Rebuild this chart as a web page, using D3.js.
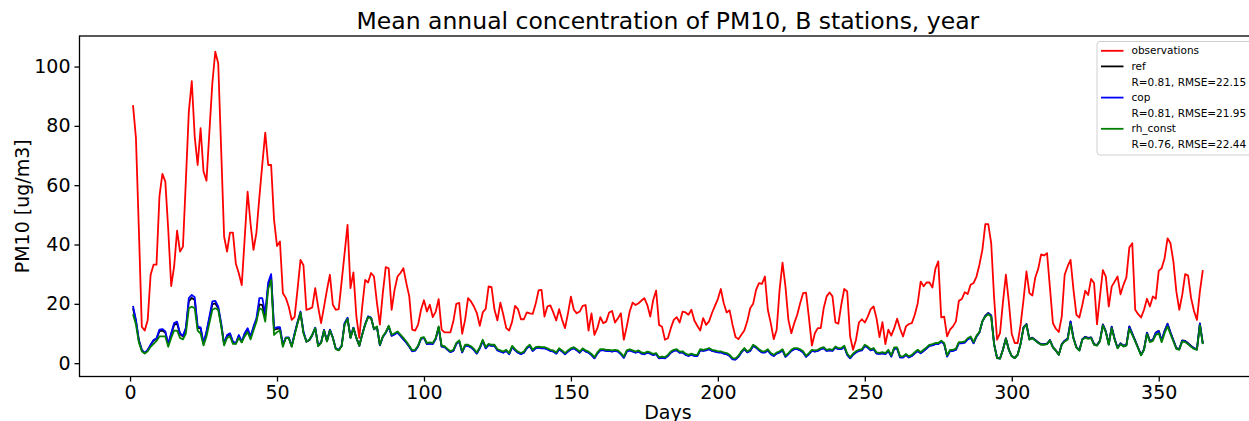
<!DOCTYPE html>
<html>
<head>
<meta charset="utf-8">
<script src="https://cdn.jsdelivr.net/npm/d3@7"></script>
<style>
  body { margin: 0; background: #fff; }
  svg { display: block; font-family: "DejaVu Sans", sans-serif; }
</style>
</head>
<body>
<svg id="chart" width="1249" height="421"></svg>
<script>
// daily means, day 1..365
const observations = [
  87, 76, 45, 12.3, 11, 14.5, 29.8, 33.2, 33.2, 56.2,
  63.8, 61.2, 44.9, 26, 32.6, 44.7, 37.6, 39.3, 61.8, 84.8,
  95.1, 76.4, 66.8, 79.2, 64.6, 61.5, 78, 94.4, 105, 101,
  72, 42.7, 37.6, 44, 44, 33.5, 30.3, 26.3, 42, 57.8,
  47, 38.2, 44, 56, 67, 77.7, 66.8, 66.8, 48.3, 39.5,
  41, 23.6, 22, 19, 14.6, 15.6, 25, 34.8, 33, 18,
  18.3, 18.8, 25.3, 19, 13.5, 19, 24.7, 29.8, 19.7, 18,
  18.2, 27.6, 37.1, 46.6, 25.3, 30.6, 15.8, 8.5, 19.1, 28.1,
  27.2, 30.4, 29.2, 20.3, 13, 23.6, 32.4, 32, 18, 24.7,
  29.2, 30.4, 32, 27, 22.5, 11.3, 11, 13, 18, 21.2,
  17.4, 19.7, 15.5, 17.4, 21.6, 11.3, 10.4, 10.4, 10.4, 14.1,
  20, 20.3, 9.9, 14.6, 21.9, 20.8, 19.1, 16.9, 12.6, 17.1,
  18.3, 25.9, 25.6, 18, 14.4, 20.4, 16.3, 11.8, 11, 14,
  19.3, 18.2, 14.8, 14.8, 17.1, 16.8, 16.6, 20, 24.5, 24.7,
  15.7, 19.1, 19.5, 17.1, 14.4, 18.2, 14.6, 11.8, 16.8, 22.4,
  18, 16.8, 17.4, 19.3, 19.6, 11, 16.8, 9.5, 11.8, 15.5,
  13.5, 14, 17.1, 17.6, 13.7, 15.1, 16.8, 7.9, 12.3, 17.4,
  20.4, 19.6, 20.2, 21.1, 21.9, 19.6, 15.7, 21.3, 24.5, 12.9,
  12.3, 7.9, 8.4, 11.8, 14.6, 15.5, 13.7, 17.4, 17.1, 16.3,
  18, 14.4, 12.6, 11, 15.2, 12.9, 14.1, 16.9, 19.3, 21.6,
  25, 20.2, 17.1, 17.8, 12.9, 8.8, 8.1, 9.6, 11, 14.1,
  18.5, 20, 24.7, 27, 26.7, 29.2, 18, 13.5, 8.1, 11.2,
  24.7, 33.9, 25.8, 14.6, 10.1, 13.5, 16.3, 20.2, 23.6, 23.8,
  15.2, 5.9, 10.1, 11.8, 11.8, 18.5, 22.5, 23.8, 22.5, 13.7,
  13.3, 19.7, 25, 24.2, 9, 4.5, 7.9, 13.7, 14.8, 13.7,
  15.7, 18.2, 19.1, 15, 8.8, 13.8, 6.4, 11.3, 9.3, 11.8,
  15, 11.6, 9, 12.4, 13.2, 13.5, 16.3, 20.2, 27.5, 25.9,
  27.2, 27.2, 25.5, 31.8, 34.3, 15.4, 15.7, 9, 11.3, 12.4,
  14.1, 21, 21.6, 23.9, 23.3, 26.4, 27, 29.2, 33.2, 38.2,
  46.9, 46.9, 40.5, 21.9, 7.9, 10.1, 20.6, 29.8, 20.6, 9.8,
  6.8, 6.8, 12.9, 21.4, 30.9, 23.6, 22.8, 28.9, 31.8, 36.7,
  36.3, 37.1, 25.3, 13.5, 11.6, 10.5, 15.7, 29.8, 32.6, 34.8,
  24.7, 16.3, 15.4, 19.6, 24.4, 23, 28.4, 27, 13.1, 22.5,
  31.4, 29.2, 19.1, 25.8, 27.5, 29.2, 23.2, 26.4, 28.9, 39,
  40.4, 18, 16.5, 15.4, 18, 21.7, 19.1, 22.5, 21.7, 31.1,
  32, 35.4, 42.1, 40.4, 34.2, 24.1, 18, 23, 30, 29.5,
  22, 17.6, 14.6, 24.1, 31.4
];

const ref = [
  18.5, 14.2, 7.6, 4.4, 3.4, 4.4, 6.1, 7.6, 8.2, 10.8,
  11, 10.3, 6.4, 9.8, 12.9, 13.4, 9.8, 9, 11.5, 20.8,
  22, 21.3, 11.9, 11.7, 6.5, 10.3, 15, 19.8, 20.2, 18.5,
  13, 6.4, 9.2, 9.8, 7.1, 6.6, 9.2, 7.1, 9.8, 11.4,
  8.8, 11.9, 14.5, 19.8, 19.6, 15.8, 26.2, 29.2, 11.2, 11.6,
  11.7, 6.1, 8.5, 8.5, 5.7, 9.8, 13.6, 16.8, 10.4, 7.2,
  7.7, 9.4, 11.9, 5.9, 6.9, 11.1, 7.4, 11.2, 8.6, 4.9,
  4.4, 5.9, 13.3, 15.1, 8.6, 11.9, 8.5, 5.9, 9.7, 13.1,
  15.6, 15.3, 11.4, 12.2, 6.1, 8.9, 10.3, 12.4, 9.3, 9.8,
  10.4, 9.3, 8.1, 7.0, 5.6, 4.1, 4.3, 5.7, 8.3, 8.6,
  6.5, 6.7, 6.5, 8.2, 12.1, 5.7, 5.5, 4.6, 3.8, 4.2,
  6.5, 7.4, 3.7, 5.9, 5.9, 5.4, 4.5, 3.3, 5.1, 7.6,
  5.1, 6.2, 5.9, 5.9, 4.4, 4.0, 3.6, 4.2, 3.1, 5.5,
  4.4, 3.6, 3.1, 3.6, 5.1, 5.9, 4.2, 5.1, 5.3, 5.1,
  5.1, 4.7, 4.2, 4.0, 3.3, 4.7, 4.0, 3.1, 4.0, 4.7,
  5.1, 4.4, 3.6, 4.7, 4.0, 3.6, 2.8, 1.7, 3.3, 4.4,
  4.4, 4.2, 4.2, 4.0, 4.2, 4.0, 3.1, 1.9, 4.0, 4.4,
  4.0, 3.6, 4.0, 3.3, 3.1, 3.6, 3.3, 2.8, 3.1, 1.7,
  1.9, 1.7, 2.5, 3.6, 4.2, 4.4, 3.6, 3.7, 2.9, 2.5,
  2.9, 2.5, 2.5, 4.4, 4.2, 4.4, 4.8, 4.2, 4.0, 3.7,
  3.7, 3.3, 3.1, 2.5, 1.4, 1.3, 2.2, 3.7, 4.8, 3.7,
  4.2, 5.9, 5.3, 4.4, 3.7, 3.7, 4.4, 3.1, 2.5, 3.3,
  3.7, 4.4, 2.2, 3.1, 4.2, 4.8, 4.8, 4.4, 3.7, 2.2,
  3.1, 4.2, 4.0, 4.2, 4.8, 5.1, 4.2, 4.4, 4.2, 5.3,
  4.8, 4.8, 5.6, 2.9, 1.7, 2.9, 3.7, 4.2, 4.4, 5.9,
  5.3, 4.4, 4.8, 3.3, 3.2, 3.4, 3.1, 4.2, 2.3, 5.0,
  5.0, 2.0, 2.0, 2.8, 2.0, 2.5, 3.4, 4.2, 3.4, 4.2,
  5.0, 5.9, 6.1, 6.5, 6.5, 7.3, 6.5, 2.3, 4.2, 4.2,
  4.6, 6.8, 6.8, 7.0, 8.1, 8.7, 6.8, 9.0, 10.4, 14.1,
  16.0, 16.9, 16.1, 6.4, 1.8, 1.6, 4.6, 8.4, 4.6, 2.4,
  1.8, 2.9, 6.6, 12.1, 13.2, 8.1, 8.6, 7.8, 7.0, 6.4,
  6.4, 6.6, 7.8, 5.4, 4.3, 2.9, 6.4, 7.6, 8.3, 14.1,
  8.5, 5.4, 4.4, 8.1, 8.9, 8.5, 8.7, 6.4, 6.1, 7.6,
  13.1, 10.7, 6.4, 12.3, 8.2, 5.2, 6.7, 5.9, 6.2, 12.4,
  10.0, 7.6, 5.2, 2.8, 4.7, 10.3, 7.5, 7.9, 10.3, 10.9,
  7.6, 10.9, 13.3, 10.4, 7.7, 5.1, 4.8, 7.7, 7.5, 6.7,
  5.8, 5.1, 4.7, 13.4, 6.7
];

const cop = [
  19.3, 14.6, 7.8, 4.5, 3.4, 4.5, 6.2, 7.8, 8.4, 11.3,
  11.5, 10.7, 6.5, 10.1, 13.5, 14, 10.1, 9.2, 12, 21.9,
  23, 22.2, 12.3, 12.1, 6.7, 10.7, 15.7, 20.8, 21, 19.1,
  13.5, 6.5, 9.5, 10.1, 7.3, 6.7, 9.5, 7.3, 10.1, 11.8,
  9, 12.3, 15.1, 21.9, 21.9, 16.8, 27.2, 30, 11.8, 12.1,
  12.1, 6.2, 8.7, 8.7, 5.8, 10.1, 14, 17.4, 10.7, 7.3,
  7.8, 9.5, 12, 5.9, 7, 11.2, 7.5, 11.3, 8.6, 4.9,
  4.4, 5.9, 13.5, 15.3, 8.6, 12, 8.5, 5.9, 9.7, 13.2,
  15.8, 15.4, 11.4, 12.2, 6, 8.8, 10.2, 12.3, 9.2, 9.7,
  10.3, 9.2, 8, 6.9, 5.5, 4, 4.2, 5.6, 8.2, 8.5,
  6.4, 6.6, 6.4, 8.1, 12, 5.6, 5.4, 4.5, 3.7, 4.1,
  6.4, 7.3, 3.6, 5.8, 5.8, 5.3, 4.4, 3.2, 5, 7.5,
  5, 6.1, 5.8, 5.8, 4.3, 3.9, 3.5, 4.1, 3.0, 5.4,
  4.3, 3.5, 3.0, 3.5, 5.0, 5.8, 4.1, 5.0, 5.2, 5.0,
  5.0, 4.6, 4.1, 3.9, 3.2, 4.6, 3.9, 3.0, 3.9, 4.6,
  5.0, 4.3, 3.5, 4.6, 3.9, 3.5, 2.7, 1.6, 3.2, 4.3,
  4.3, 4.1, 4.1, 3.9, 4.1, 3.9, 3.0, 1.8, 3.9, 4.3,
  3.9, 3.5, 3.9, 3.2, 3.0, 3.5, 3.2, 2.7, 3.0, 1.6,
  1.8, 1.6, 2.4, 3.5, 4.1, 4.3, 3.5, 3.6, 2.8, 2.4,
  2.8, 2.4, 2.4, 4.3, 4.1, 4.3, 4.7, 4.1, 3.9, 3.6,
  3.6, 3.2, 3.0, 2.4, 1.3, 1.2, 2.1, 3.6, 4.7, 3.6,
  4.1, 5.8, 5.2, 4.3, 3.6, 3.6, 4.3, 3.0, 2.4, 3.2,
  3.6, 4.3, 2.1, 3.0, 4.1, 4.7, 4.7, 4.3, 3.6, 2.1,
  3.0, 4.1, 3.9, 4.1, 4.7, 5.0, 4.1, 4.3, 4.1, 5.2,
  4.7, 4.7, 5.5, 2.8, 1.6, 2.8, 3.6, 4.1, 4.3, 5.8,
  5.2, 4.3, 4.7, 3.2, 3.1, 3.3, 3.0, 4.1, 2.2, 4.9,
  4.9, 1.9, 1.9, 2.7, 1.9, 2.4, 3.3, 4.1, 3.3, 4.1,
  4.9, 5.8, 6.0, 6.4, 6.4, 7.2, 6.4, 2.2, 4.1, 4.1,
  4.5, 6.7, 6.7, 6.9, 8.0, 8.6, 6.7, 8.9, 10.3, 14.0,
  15.9, 16.8, 16.0, 6.3, 1.7, 1.5, 4.5, 8.3, 4.5, 2.3,
  1.7, 2.8, 6.5, 12.0, 13.1, 8.0, 8.5, 7.7, 6.9, 6.3,
  6.3, 6.5, 7.7, 5.3, 4.2, 2.8, 6.3, 7.5, 8.2, 14.0,
  8.4, 5.3, 4.3, 8.0, 8.8, 8.4, 8.6, 6.3, 6.0, 7.5,
  13.0, 10.6, 6.3, 12.2, 8.1, 5.1, 6.6, 5.8, 6.1, 12.3,
  9.9, 7.5, 5.1, 2.7, 4.6, 10.2, 7.4, 7.8, 10.2, 10.8,
  7.5, 10.8, 13.2, 10.3, 7.6, 5.0, 4.7, 7.6, 7.4, 6.6,
  5.7, 5.0, 4.6, 13.3, 6.6
];

const rhConst = [
  16.5, 13, 7, 4, 3.2, 4, 5.5, 6.5, 7.5, 9,
  9, 9, 5.5, 8.5, 11, 11, 8.5, 8, 10, 18.5,
  19, 18.5, 11, 10, 6, 9, 13.5, 18, 18.5, 18,
  12.5, 6, 8.5, 9, 6.5, 6.5, 8.5, 7, 9, 10.5,
  8, 11, 14, 18.5, 18, 14, 25, 28, 9.5, 10.5,
  11, 5.5, 8.5, 8.5, 5.5, 9.5, 13.5, 17, 10, 7.3,
  7.9, 9.6, 11.8, 5.7, 6.8, 11, 7.3, 11, 8.5, 4.8,
  4.3, 5.7, 13, 14.9, 8.5, 11.8, 8.5, 5.9, 9.6, 13,
  15.5, 15.2, 11.5, 12.4, 6.2, 9, 10.4, 12.6, 9.6, 10.1,
  10.7, 9.6, 8.5, 7.3, 5.9, 4.3, 4.5, 5.9, 8.5, 8.8,
  6.8, 7, 6.8, 8.5, 12.4, 5.9, 5.7, 4.8, 4, 4.5,
  6.8, 7.7, 4, 6.2, 6.2, 5.7, 4.8, 3.6, 5.4, 7.9,
  5.4, 6.5, 6.2, 6.2, 4.7, 4.3, 3.9, 4.5, 3.4, 5.8,
  4.7, 3.9, 3.4, 3.9, 5.4, 6.2, 4.5, 5.4, 5.6, 5.4,
  5.4, 5, 4.5, 4.3, 3.6, 5, 4.3, 3.4, 4.3, 5,
  5.4, 4.7, 3.9, 5, 4.3, 3.9, 3.1, 2, 3.6, 4.7,
  4.7, 4.5, 4.5, 4.3, 4.5, 4.3, 3.4, 2.2, 4.3, 4.7,
  4.3, 3.9, 4.3, 3.6, 3.4, 3.9, 3.6, 3.1, 3.4, 2,
  2.2, 2, 2.8, 3.9, 4.5, 4.7, 3.9, 4, 3.2, 2.8,
  3.2, 2.8, 2.8, 4.7, 4.5, 4.7, 5.1, 4.5, 4.3, 4,
  4, 3.6, 3.4, 2.8, 1.7, 1.6, 2.5, 4, 5.1, 4,
  4.5, 6.2, 5.6, 4.7, 4, 4, 4.7, 3.4, 2.8, 3.6,
  4, 4.7, 2.5, 3.4, 4.5, 5.1, 5.1, 4.7, 4, 2.5,
  3.4, 4.5, 4.3, 4.5, 5.1, 5.4, 4.5, 4.7, 4.5, 5.6,
  5.1, 5.1, 5.9, 3.2, 2, 3.2, 4, 4.5, 4.7, 6.2,
  5.6, 4.7, 5.1, 3.6, 3.5, 3.7, 3.4, 4.5, 2.6, 5.3,
  5.3, 2.3, 2.3, 3.1, 2.3, 2.8, 3.7, 4.5, 3.7, 4.5,
  5.3, 6.2, 6.4, 6.8, 6.8, 7.6, 6.8, 2.6, 4.5, 4.5,
  4.9, 7.1, 7.1, 7.3, 8.4, 9, 7.1, 9.3, 10.5, 14.1,
  15.7, 16.5, 15.7, 6.2, 1.7, 1.5, 4.5, 8.2, 4.5, 2.3,
  1.7, 2.8, 6.4, 11.8, 12.9, 7.9, 8.4, 7.6, 6.8, 6.2,
  6.2, 6.4, 7.6, 5.3, 4.2, 2.8, 6.2, 7.3, 7.9, 13.2,
  8.2, 5.2, 4.2, 7.9, 8.6, 8.2, 8.4, 6.2, 5.9, 7.3,
  12.7, 10.4, 6.2, 11.8, 7.9, 5, 6.4, 5.6, 5.9, 11.6,
  9.5, 7.3, 5, 2.6, 4.5, 9.8, 7.1, 7.5, 9.5, 10.1,
  7.1, 10.1, 12.4, 9.8, 7.3, 4.8, 4.5, 7.3, 7.1, 6.4,
  5.5, 4.8, 4.5, 12.7, 6.4
];

const xTicks = [0, 50, 100, 150, 200, 250, 300, 350];
const yTicks = [0, 20, 40, 60, 80, 100];

const seriesNames = ["observations", "ref", "cop", "rh_const"];
const seriesColors = ["#ff0000", "#000000", "#0000ff", "#008000"];
const seriesStats = [null, "R=0.81, RMSE=22.15", "R=0.81, RMSE=21.95", "R=0.76, RMSE=22.44"];

const series = [observations, ref, cop, rhConst];

const svg = d3.select("#chart");
const plot = { left: 79.5, right: 1256.3, top: 36, bottom: 376.5 };

const x = d3.scaleLinear().domain([-17.2, 383.2]).range([plot.left, plot.right]);
const y = d3.scaleLinear().domain([-4.5, 110.3]).range([plot.bottom, plot.top]);

svg.append("defs").append("clipPath").attr("id", "clip")
  .append("rect")
  .attr("x", plot.left).attr("y", plot.top)
  .attr("width", plot.right - plot.left).attr("height", plot.bottom - plot.top);

const line = d3.line()
  .x((d, i) => x(i + 1))
  .y(d => y(d));

const lines = svg.append("g").attr("clip-path", "url(#clip)");
series.forEach((values, k) => {
  lines.append("path")
    .datum(values)
    .attr("fill", "none")
    .attr("stroke", seriesColors[k])
    .attr("stroke-width", 1.8)
    .attr("stroke-linejoin", "round")
    .attr("d", line);
});

// axes
const xAxis = svg.append("g")
  .attr("transform", `translate(0, ${plot.bottom})`)
  .call(d3.axisBottom(x).tickValues(xTicks).tickSize(5).tickPadding(4).tickSizeOuter(0));
const yAxis = svg.append("g")
  .attr("transform", `translate(${plot.left}, 0)`)
  .call(d3.axisLeft(y).tickValues(yTicks).tickSize(5).tickPadding(4).tickSizeOuter(0));

[xAxis, yAxis].forEach(ax => {
  ax.select(".domain").remove();
  ax.selectAll(".tick line").attr("stroke", "#000").attr("stroke-width", 1.3);
  ax.selectAll(".tick text").attr("fill", "#000").attr("font-size", "19px")
    .attr("font-family", "DejaVu Sans");
});

// frame
svg.append("rect")
  .attr("x", plot.left).attr("y", plot.top)
  .attr("width", plot.right - plot.left).attr("height", plot.bottom - plot.top)
  .attr("fill", "none").attr("stroke", "#000").attr("stroke-width", 1.3);

svg.append("text")
  .attr("x", (plot.left + plot.right) / 2)
  .attr("y", 29)
  .attr("text-anchor", "middle")
  .attr("font-size", "23.5px")
  .text("Mean annual concentration of PM10, B stations, year");

svg.append("text")
  .attr("x", (plot.left + plot.right) / 2)
  .attr("y", 419)
  .attr("text-anchor", "middle")
  .attr("font-size", "19px")
  .text("Days");

svg.append("text")
  .attr("transform", `translate(29, ${(plot.top + plot.bottom) / 2}) rotate(-90)`)
  .attr("text-anchor", "middle")
  .attr("font-size", "19px")
  .text("PM10 [ug/m3]");

// legend
const legend = svg.append("g").attr("transform", "translate(1097, 41.5)");
legend.append("rect")
  .attr("width", 160).attr("height", 113.5).attr("rx", 3)
  .attr("fill", "#fff").attr("fill-opacity", 0.8)
  .attr("stroke", "#d0d0d0").attr("stroke-width", 1);

const rowH = 15.6;
let row = 0;
seriesNames.forEach((name, k) => {
  const cy = 9.3 + row * rowH;
  legend.append("line")
    .attr("x1", 4).attr("x2", 26.5).attr("y1", cy).attr("y2", cy)
    .attr("stroke", seriesColors[k]).attr("stroke-width", 1.8);
  legend.append("text")
    .attr("x", 34.5).attr("y", cy).attr("dy", "0.35em")
    .attr("font-size", "10.5px")
    .text(name);
  row++;
  if (seriesStats[k]) {
    legend.append("text")
      .attr("x", 34.5).attr("y", 9.3 + row * rowH).attr("dy", "0.35em")
      .attr("font-size", "10.5px")
      .text(seriesStats[k]);
    row++;
  }
});
</script>
</body>
</html>
